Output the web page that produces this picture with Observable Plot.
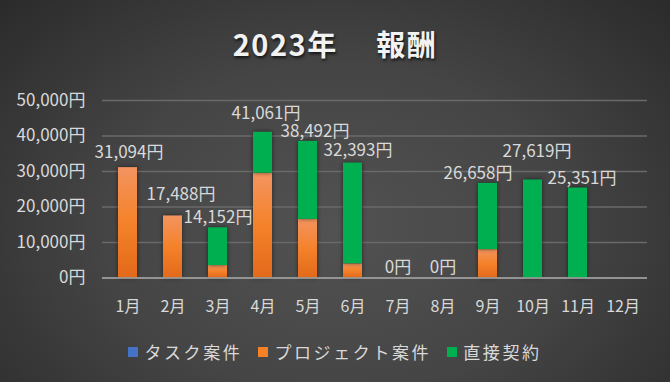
<!DOCTYPE html>
<html><head><meta charset="utf-8">
<script src="https://cdn.jsdelivr.net/npm/d3@7"></script>
<script src="https://cdn.jsdelivr.net/npm/@observablehq/plot@0.6"></script>
<style>
html,body{margin:0;padding:0;}
#wrap{position:relative;width:670px;height:382px;overflow:hidden;
  background:radial-gradient(ellipse 75% 95% at 50% 60%, #525252 0%, #454545 45%, #262626 100%);
  font-family:"Noto Sans CJK JP","Noto Sans",sans-serif;}
#title{position:absolute;left:0;right:0;top:22px;text-align:center;color:#f2f2f2;font-size:29px;font-weight:bold;
  letter-spacing:1.5px;text-shadow:1px 2px 3px rgba(0,0,0,0.7);white-space:pre;}
#legend{position:absolute;left:0;right:0;top:339px;display:flex;justify-content:center;gap:16px;color:#d9d9d9;font-size:17px;letter-spacing:2.6px;}
#legend span.i{display:flex;align-items:center;}
#legend span.sw{display:inline-block;width:10px;height:10px;margin-right:6px;}
#chart{position:absolute;left:0;top:0;}
#chart g[aria-label="bar"] rect{filter:drop-shadow(0 0 2px rgba(0,0,0,0.55));}
</style></head>
<body>
<div id="wrap">
  <div id="title">2023年　 報酬</div>
  <div id="chart"></div>
  <div id="legend"></div>
</div>
<script>
const months = ["1月","2月","3月","4月","5月","6月","7月","8月","9月","10月","11月","12月"];
const seriesNames = ["タスク案件","プロジェクト案件","直接契約"];
const seriesColors = ["#4472C4","#F58025","#00B050"];
const task    = [0,0,0,0,0,0,0,0,0,0,0,null];
const project = [31094,17488,3500,29500,16500,4000,0,0,8000,0,0,null];
const direct  = [0,0,10652,11561,21992,28393,0,0,18658,27619,25351,null];
const yTicks  = [0,10000,20000,30000,40000,50000];

// manual nudges of the total labels (as placed in the reference to avoid overlaps)
const labelNudge = {"1月":[1,-15],"2月":[8,-21],"3月":[0,-10],"4月":[3,-19],"5月":[7,-10],"6月":[5,-12],
  "7月":[0,-10],"8月":[0,-10],"9月":[-10,-10],"10月":[4,-28],"11月":[4,-9]};

const seriesValues = [task, project, direct];
const rows = [];
months.forEach((m,i)=>{
  seriesNames.forEach((s,j)=>{
    const v = seriesValues[j][i];
    if (v != null) rows.push({month:m, series:s, value:v});
  });
});
const totals = months.map((m,i)=>({month:m, total: task[i]==null ? null : task[i]+project[i]+direct[i]}))
  .filter(d=>d.total!=null);
const fmt = d => d3.format(",")(d) + "円";

function defs(){
  const ns="http://www.w3.org/2000/svg";
  const d=document.createElementNS(ns,"defs");
  const g=document.createElementNS(ns,"linearGradient");
  g.setAttribute("id","og");g.setAttribute("x1","0");g.setAttribute("y1","0");g.setAttribute("x2","0");g.setAttribute("y2","1");
  [["0%","#F39460"],["50%","#F5822A"],["100%","#E2691A"]].forEach(([o,c])=>{
    const s=document.createElementNS(ns,"stop");s.setAttribute("offset",o);s.setAttribute("stop-color",c);g.appendChild(s);
  });
  d.appendChild(g);
  return d;
}

const chart = Plot.plot({
  width:670, height:382,
  marginLeft:102, marginRight:23, marginTop:100, marginBottom:104.5,
  style:{background:"transparent", color:"#d9d9d9", fontFamily:"'Noto Sans CJK JP','Noto Sans',sans-serif", fontSize:"17px"},
  x:{domain:months, padding:0.58, paddingOuter:0.29, label:null},
  y:{domain:[0,50000], label:null},
  color:{domain:seriesNames, range:[seriesColors[0],"url(#og)",seriesColors[2]]},
  marks:[
    defs,
    Plot.gridY(yTicks,{stroke:"#6a6a6a", strokeOpacity:1, strokeWidth:1.3}),
    Plot.axisY(yTicks,{tickFormat:fmt, tickSize:0, tickPadding:17, fontSize:17, fill:"#d9d9d9"}),
    Plot.axisX({tickSize:0, tickPadding:23, fontSize:16, fill:"#d9d9d9"}),
    Plot.barY(rows,{x:"month", y:"value", fill:"series", order:seriesNames}),
    Plot.ruleY([0],{stroke:"#a6a6a6", strokeWidth:1.6}),
    ...totals.map(t => Plot.text([t],{x:"month", y:"total", text:d=>fmt(d.total),
      dx:labelNudge[t.month][0], dy:labelNudge[t.month][1], fontSize:17, fill:"#d9d9d9"}))
  ]
});
document.getElementById("chart").appendChild(chart);

const lg=document.getElementById("legend");
seriesNames.forEach((s,j)=>{
  const it=document.createElement("span");it.className="i";
  const sw=document.createElement("span");sw.className="sw";sw.style.background=seriesColors[j];
  it.appendChild(sw);it.appendChild(document.createTextNode(s));lg.appendChild(it);
});
</script>
</body></html>
